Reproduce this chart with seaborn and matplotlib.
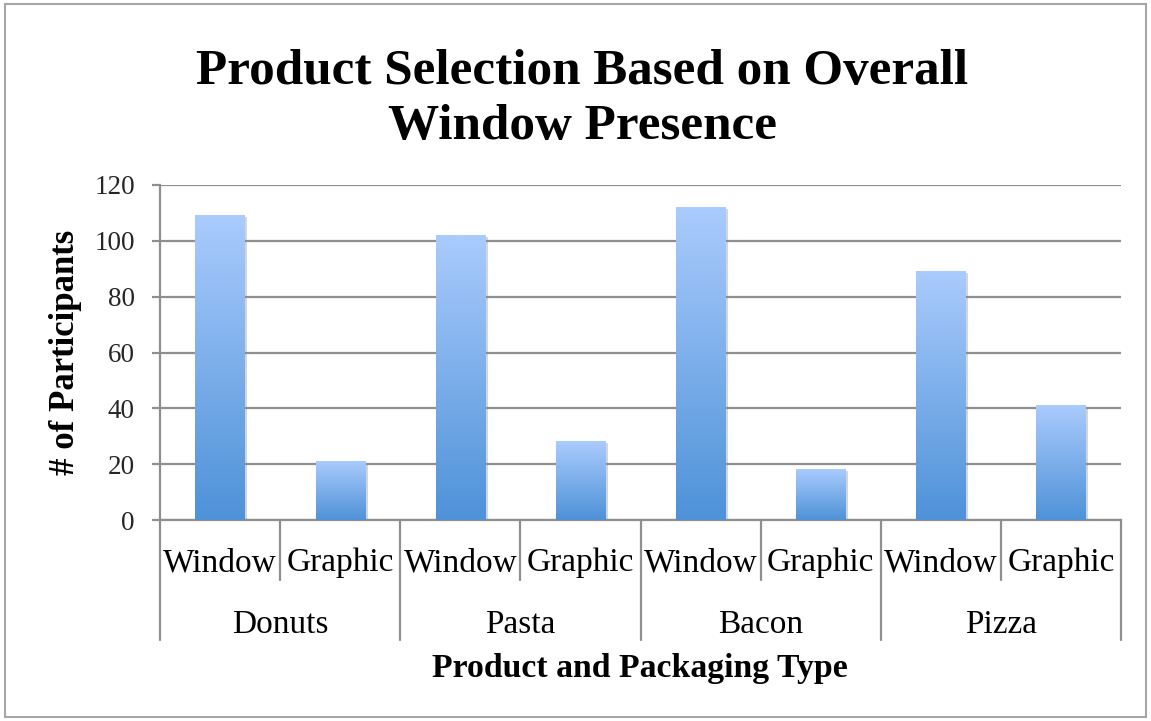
import numpy as np
import pandas as pd
import seaborn as sns
import matplotlib.pyplot as plt
from matplotlib.colors import LinearSegmentedColormap
from matplotlib.patches import Rectangle
import matplotlib.transforms as mtransforms
import matplotlib.patheffects as pe

# ---- data ----
products = ["Donuts", "Pasta", "Bacon", "Pizza"]
packaging = ["Window", "Graphic"]
window_counts = [109, 102, 112, 89]
graphic_counts = [21, 28, 18, 41]
y_ticks = [0, 20, 40, 60, 80, 100, 120]

title_lines = ["Product Selection Based on Overall", "Window Presence"]
x_label = "Product and Packaging Type"
y_label = "# of Participants"

rows = []
for i, p in enumerate(products):
    rows.append({"product": p, "packaging": "Window", "count": window_counts[i]})
    rows.append({"product": p, "packaging": "Graphic", "count": graphic_counts[i]})
df = pd.DataFrame(rows)
df["slot"] = df["product"] + " " + df["packaging"]
slots = list(df["slot"])

sns.set_theme(style="white")
plt.rcParams['font.family'] = ['Liberation Serif', 'DejaVu Serif']

W, H = 1151, 721
fig = plt.figure(figsize=(W / 100, H / 100), dpi=100)
fig.patch.set_facecolor("white")

ax_l, ax_r, ax_t, ax_b = 160, 1121, 185, 520
ax = fig.add_axes([ax_l / W, 1 - ax_b / H, (ax_r - ax_l) / W, (ax_b - ax_t) / H])

sns.barplot(data=df, x="slot", y="count", order=slots, color="#6fa6e6",
            width=0.41, saturation=1, ax=ax, errorbar=None)

grid_c = "#8f8f8f"
ax.set_ylim(0, 120)
ax.set_xlim(-0.5, 7.5)
ax.set_yticks(y_ticks)
ax.set_yticklabels([str(v) for v in y_ticks])
ax.yaxis.grid(True, color=grid_c, lw=1.6)
ax.xaxis.grid(False)
ax.set_axisbelow(True)
for s in ["top", "right"]:
    ax.spines[s].set_visible(False)
for s in ["left", "bottom"]:
    ax.spines[s].set_color(grid_c)
    ax.spines[s].set_linewidth(1.6)
ax.tick_params(axis='y', length=6, width=1.6, color=grid_c, direction='out',
               labelsize=19.5, pad=12, left=True)
ax.tick_params(axis='x', length=0, labelbottom=False)
ax.set_xlabel("")
ax.set_ylabel("")

# gradient bars
cmap = LinearSegmentedColormap.from_list("bar", ["#4e92d8", "#aacbfd"])
grad = np.linspace(0, 1, 256).reshape(-1, 1)
for p in list(ax.patches):
    x0, w, h = p.get_x(), p.get_width(), p.get_height()
    p.set_edgecolor("none")
    p.set_alpha(0.0)
    shadow = Rectangle((x0, 0), w, h, facecolor="none", edgecolor="none", zorder=2)
    shadow.set_path_effects([pe.SimplePatchShadow(offset=(2, -1), shadow_rgbFace="#888888", alpha=0.35)])
    ax.add_patch(shadow)
    ax.imshow(grad, cmap=cmap, origin='lower', extent=[x0, x0 + w, 0, h],
              aspect='auto', zorder=3, interpolation='bilinear')
ax.set_xlim(-0.5, 7.5)
ax.set_ylim(0, 120)

# multi-level category axis
ax_h = ax_b - ax_t
trans = mtransforms.blended_transform_factory(ax.transData, ax.transAxes)
pair_depth = -(580 - ax_b) / ax_h
group_depth = -(640 - ax_b) / ax_h
for b in np.arange(-0.5, 8.0, 1.0):
    depth = group_depth if (b + 0.5) % 2 == 0 else pair_depth
    ax.plot([b, b], [0, depth], transform=trans, clip_on=False, color=grid_c, lw=1.6)

pk_y = -(563 - ax_b) / ax_h
gr_y = -(625 - ax_b) / ax_h
for i, s in enumerate(slots):
    ax.text(i, pk_y, df["packaging"][i], transform=trans, ha='center', va='center',
            fontsize=24, color="black")
for gi, p in enumerate(products):
    ax.text(2 * gi + 0.5, gr_y, p, transform=trans, ha='center', va='center',
            fontsize=24, color="black")

# labels and title
fig.text(640 / W, 1 - 668 / H, x_label, ha='center', va='center', fontsize=24.3,
         fontweight='bold', color='black')
fig.text(66 / W, 1 - 352 / H, y_label, ha='center', va='center', rotation=90,
         fontsize=25, fontweight='bold', color='black')
fig.text(582 / W, 1 - 84 / H, title_lines[0], ha='center', va='baseline', fontsize=36.8,
         fontweight='bold', color='black')
fig.text(582 / W, 1 - 139 / H, title_lines[1], ha='center', va='baseline', fontsize=36.8,
         fontweight='bold', color='black')

# chart border
fig.patches.append(Rectangle((5 / W, 4 / H), 1 - 10 / W, 1 - 8 / H, transform=fig.transFigure,
                             fill=False, edgecolor="#a6a6a6", lw=1.5))

fig.savefig("out.png", dpi=100, facecolor="white")
